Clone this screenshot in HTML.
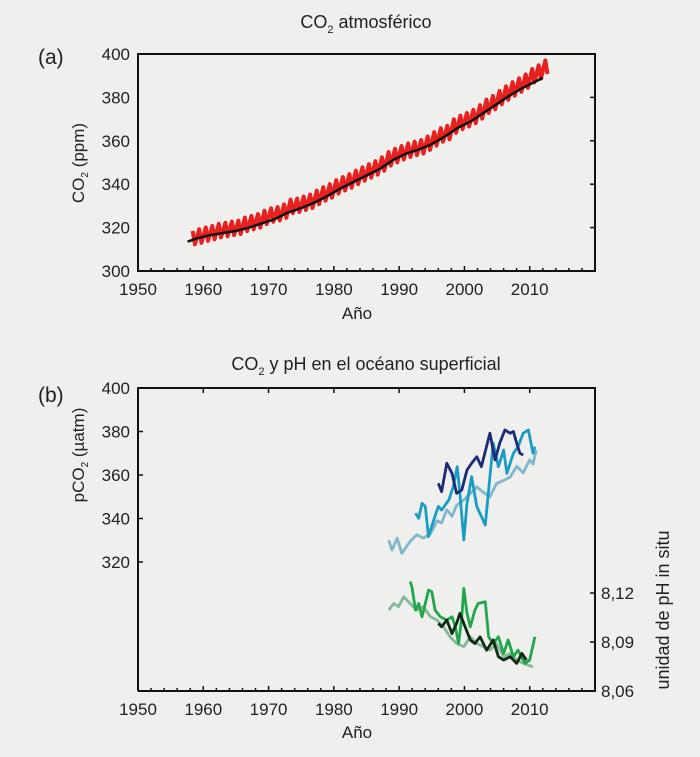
<!DOCTYPE html>
<html><head><meta charset="utf-8"><style>
html,body{margin:0;padding:0;background:#efefed;}
svg{display:block;font-family:"Liberation Sans",Arial,sans-serif;}
</style></head><body>
<svg id="chart" width="700" height="757" viewBox="0 0 700 757">
<rect width="700" height="757" fill="#efefed"/>
<g id="pa"></g>
<g id="pb"></g>
</svg>
<script>
// ---- Panel (a) data ----
const redYears = [1958,1959,1960,1961,1962,1963,1964,1965,1966,1967,1968,1969,1970,1971,1972,1973,1974,1975,1976,1977,1978,1979,1980,1981,1982,1983,1984,1985,1986,1987,1988,1989,1990,1991,1992,1993,1994,1995,1996,1997,1998,1999,2000,2001,2002,2003,2004,2005,2006,2007,2008,2009,2010,2011,2012];
const redPeaks = [318.5,319.2,320.1,320.8,321.7,322.2,322.8,323.2,324.6,325.4,326.2,327.8,328.9,329.5,330.7,332.9,333.4,334.3,335.2,337.0,338.6,340.0,341.9,343.3,344.6,346.2,347.8,349.2,350.6,352.4,354.8,356.3,357.6,358.8,359.6,360.3,362.0,364.0,365.8,366.9,369.9,371.6,372.8,374.3,376.4,379.0,380.7,383.0,385.1,387.0,388.8,390.6,393.1,394.8,397.0];
const redTroughs = [312.3,313.0,313.9,314.6,315.5,316.0,316.6,317.0,318.4,319.2,320.0,321.6,322.7,323.3,324.5,326.7,327.2,328.1,329.0,330.8,332.4,333.8,335.7,337.1,338.4,340.0,341.6,343.0,344.4,346.2,348.6,350.1,351.4,352.6,353.4,354.1,355.8,357.8,359.6,360.7,363.7,365.4,366.6,368.1,370.2,372.8,374.5,376.8,378.9,380.8,382.6,384.4,386.9,388.6,390.8];
const blackYears = [1957.6,1959,1961,1963,1965,1967,1969,1971,1973,1975,1977,1979,1981,1983,1985,1987,1989,1991,1993,1995,1997,1999,2001,2003,2005,2007,2009,2011,2012];
const blackVals = [313.5,315,316.5,317.5,318.5,320,322,324,327,329,331.5,334.5,338,341,344,347,351,354,356,358.5,362,366,369,373,377,381,384.5,387.5,389];
const aYTicks = [300,320,340,360,380,400];
const xTicks = [1950,1960,1970,1980,1990,2000,2010];

// ---- Panel (b) data ----
const paleYears = [1988.4,1988.9,1989.7,1990.4,1991.7,1992.7,1993.7,1994.8,1995.8,1996.5,1997.3,1998.1,1998.8,1999.9,2000.9,2001.9,2002.9,2003.9,2004.9,2006,2007,2008,2009,2010,2010.5,2011];
const paleVals = [330,325.5,331,324,329.5,332.5,331,333,339,338,344,341,346,348.5,351.5,354.5,352,350,356,357.5,359,364,361,367,365,371.5];
const midYears = [1992.5,1993.0,1993.5,1994.0,1994.5,1995.3,1996.0,1996.5,1997.6,1998.3,1998.9,1999.3,1999.9,2000.4,2001.1,2001.9,2003.2,2003.9,2004.4,2005.2,2006.0,2006.5,2007.5,2008.2,2009.0,2009.8,2010.5,2010.8];
const midVals = [342.4,340.1,347,345.5,331.7,339.3,345.5,343.9,348.5,354.6,363.8,351.6,330.1,347,359.2,345.5,337,359.2,374.6,363.8,371.5,360.8,370,373,379.2,380.7,370,373];
const navyYears = [1996.0,1996.5,1997.3,1998.1,1998.8,1999.6,2000.4,2001.1,2001.9,2002.6,2003.9,2004.7,2005.4,2006.2,2007.0,2007.5,2008.0,2008.5,2009.0];
const navyVals = [356.2,352.3,365.4,360.8,351.6,353.1,362.3,365.4,368.4,363.8,379.2,366.9,374.6,380.7,379.2,380,374.6,370,369.2];
const sageYears = [1988.4,1989.2,1989.9,1990.7,1991.7,1992.7,1993.7,1994.8,1995.8,1996.8,1997.8,1998.8,1999.9,2000.9,2001.9,2002.9,2003.9,2004.9,2006.0,2007.0,2008.0,2009.0,2010.5];
const sageVals = [8.1095,8.1136,8.1116,8.1177,8.1136,8.1095,8.1116,8.1054,8.1034,8.0993,8.0932,8.0891,8.0871,8.0932,8.0891,8.0871,8.0850,8.0891,8.0810,8.0830,8.0789,8.0769,8.0748];
const greenYears = [1991.7,1991.96,1992.5,1993.0,1993.5,1994.0,1994.5,1995.0,1995.5,1996.3,1997.3,1998.1,1998.6,1999.1,1999.6,1999.9,2000.4,2000.9,2001.6,2002.1,2003.2,2003.7,2004.4,2005.2,2006.0,2006.7,2007.5,2008.2,2009.3,2010.0,2010.8];
const greenVals = [8.1269,8.1238,8.1095,8.1136,8.1054,8.1136,8.1218,8.1208,8.1095,8.1054,8.1034,8.1054,8.0993,8.0891,8.1054,8.1228,8.1075,8.0993,8.1095,8.1136,8.1146,8.0932,8.0891,8.0932,8.0830,8.0912,8.0810,8.0850,8.0769,8.0789,8.0932];
const dgreenYears = [1996.0,1996.5,1997.3,1998.1,1998.8,1999.3,2000.1,2000.9,2001.6,2002.4,2003.4,2004.4,2005.2,2006.0,2007.0,2008.0,2008.8,2009.5];
const dgreenVals = [8.1014,8.0993,8.1034,8.0952,8.1014,8.1075,8.0993,8.0912,8.0891,8.0932,8.0850,8.0912,8.0810,8.0789,8.0810,8.0769,8.0830,8.0789];
const bYTicks = [320,340,360,380,400];
const phTicks = [8.06,8.09,8.12];
const phLabels = ["8,06","8,09","8,12"];

const NS = "http://www.w3.org/2000/svg";
function mk(parent, tag, attrs) {
  const e = document.createElementNS(NS, tag);
  for (const k in attrs) e.setAttribute(k, attrs[k]);
  parent.appendChild(e);
  return e;
}
const L = 138, R = 595;
const FS = 17;
function xS(y) { return L + (y - 1950) / 70 * (R - L); }

// ---------- Panel A ----------
const pa = document.getElementById('pa');
const aTop = 54, aBot = 271;
function yA(v) { return aBot - (v - 300) / 100 * (aBot - aTop); }

let t = mk(pa, 'text', {x: 366, y: 28, 'text-anchor': 'middle', 'font-size': 18, fill: '#222'});


t.innerHTML = 'CO<tspan font-size="11" dy="5">2</tspan><tspan dy="-5"> atmosférico</tspan>';
t = mk(pa, 'text', {x: 38, y: 64, 'font-size': 21, fill: '#222'});


t.textContent = '(a)';

let pts = [];
for (let i = 0; i < redYears.length; i++) {
  pts.push(xS(redYears[i] + 0.38).toFixed(1) + ',' + yA(redPeaks[i]).toFixed(1));
  pts.push(xS(redYears[i] + 0.72).toFixed(1) + ',' + yA(redTroughs[i]).toFixed(1));
}
let p = mk(pa, 'polyline', {points: pts.join(' '), fill: 'none', stroke: '#e8201e', 'stroke-width': 4, 'stroke-linejoin': 'round'});


pts = blackYears.map((y, i) => xS(y).toFixed(1) + ',' + yA(blackVals[i]).toFixed(1));
p = mk(pa, 'polyline', {points: pts.join(' '), fill: 'none', stroke: '#111', 'stroke-width': 2.5, 'stroke-linejoin': 'round'});



let r = mk(pa, 'rect', {x: L, y: aTop, width: R - L, height: aBot - aTop, fill: 'none', stroke: '#111', 'stroke-width': 2});


aYTicks.forEach(v => {
  const y = yA(v);
  const tk = mk(pa, 'line', {x1: R, x2: R - 5, y1: y, y2: y, stroke: '#111', 'stroke-width': 1.5});
  
  
  const lb = mk(pa, 'text', {x: 130, y: y + 6, 'text-anchor': 'end', 'font-size': FS, fill: '#222'});
  
  
  lb.textContent = v;
});
for (let yr = 1950; yr <= 2020; yr += 2) {
  const x = xS(yr);
  const tk = mk(pa, 'line', {x1: x, x2: x, y1: aBot, y2: aBot - (yr % 10 === 0 ? 5 : 3), stroke: '#111', 'stroke-width': 1.5});
  
  
}
xTicks.forEach(v => {
  const lb = mk(pa, 'text', {x: xS(v), y: 295, 'text-anchor': 'middle', 'font-size': FS, fill: '#222'});
  
  
  lb.textContent = v;
});
t = mk(pa, 'text', {x: 357, y: 319, 'text-anchor': 'middle', 'font-size': FS, fill: '#222'});


t.textContent = 'Año';
t = mk(pa, 'text', {x: 0, y: 0, 'text-anchor': 'middle', 'font-size': FS, fill: '#222', transform: 'translate(84,163) rotate(-90)'});


t.innerHTML = 'CO<tspan font-size="10" dy="4">2</tspan><tspan dy="-4"> (ppm)</tspan>';

// ---------- Panel B ----------
const pb = document.getElementById('pb');
const bTop = 388, bBot = 691;
function yB(v) { return bTop + (400 - v) * 2.175; }
function yPH(v) { return bBot - (v - 8.06) / 0.06 * 98; }

t = mk(pb, 'text', {x: 366, y: 370, 'text-anchor': 'middle', 'font-size': 18, fill: '#222'});


t.innerHTML = 'CO<tspan font-size="11" dy="5">2</tspan><tspan dy="-5"> y pH en el océano superficial</tspan>';
t = mk(pb, 'text', {x: 38, y: 402, 'font-size': 21, fill: '#222'});


t.textContent = '(b)';

function series(years, vals, yf, color, name, w) {
  const ps = years.map((y, i) => xS(y).toFixed(1) + ',' + yf(vals[i]).toFixed(1));
  const e = mk(pb, 'polyline', {points: ps.join(' '), fill: 'none', stroke: color, 'stroke-width': w || 2.8, 'stroke-linejoin': 'round'});
  
  
}
series(paleYears, paleVals, yB, '#7fb8cc', 'pco2-pale-blue-line');
series(midYears, midVals, yB, '#1a9cc4', 'pco2-blue-line');
series(navyYears, navyVals, yB, '#1c2a78', 'pco2-navy-line');
series(sageYears, sageVals, yPH, '#86b89a', 'ph-sage-line');
series(greenYears, greenVals, yPH, '#22a64a', 'ph-green-line');
series(dgreenYears, dgreenVals, yPH, '#0d2a12', 'ph-dark-green-line');

let ax = mk(pb, 'polyline', {points: `${L},${bBot} ${L},${bTop} ${R},${bTop} ${R},${bBot} ${L},${bBot}`, fill: 'none', stroke: '#111', 'stroke-width': 2});


bYTicks.forEach(v => {
  const y = yB(v);
  const tk = mk(pb, 'line', {x1: L, x2: L + 5, y1: y, y2: y, stroke: '#111', 'stroke-width': 1.5});
  
  
  const lb = mk(pb, 'text', {x: 130, y: y + 6, 'text-anchor': 'end', 'font-size': FS, fill: '#222'});
  
  
  lb.textContent = v;
});
phTicks.forEach((v, i) => {
  const y = yPH(v);
  const tk = mk(pb, 'line', {x1: R, x2: R - 5, y1: y, y2: y, stroke: '#111', 'stroke-width': 1.5});
  
  
  const lb = mk(pb, 'text', {x: 601, y: y + 6, 'text-anchor': 'start', 'font-size': FS, fill: '#222'});
  
  
  lb.textContent = phLabels[i];
});
for (let yr = 1950; yr <= 2020; yr += 2) {
  const x = xS(yr);
  const tk = mk(pb, 'line', {x1: x, x2: x, y1: bBot, y2: bBot - (yr % 10 === 0 ? 5 : 3), stroke: '#111', 'stroke-width': 1.5});
  
  
}
xTicks.forEach(v => {
  const x = xS(v);
  const tk = mk(pb, 'line', {x1: x, x2: x, y1: bTop, y2: bTop + 5, stroke: '#111', 'stroke-width': 1.5});
  
  
  const lb = mk(pb, 'text', {x: x, y: 715, 'text-anchor': 'middle', 'font-size': FS, fill: '#222'});
  
  
  lb.textContent = v;
});
t = mk(pb, 'text', {x: 357, y: 738, 'text-anchor': 'middle', 'font-size': FS, fill: '#222'});


t.textContent = 'Año';
t = mk(pb, 'text', {x: 0, y: 0, 'text-anchor': 'middle', 'font-size': FS, fill: '#222', transform: 'translate(84,455) rotate(-90)'});


t.innerHTML = 'pCO<tspan font-size="10" dy="4">2</tspan><tspan dy="-4"> (µatm)</tspan>';
t = mk(pb, 'text', {x: 0, y: 0, 'text-anchor': 'middle', 'font-size': 18, fill: '#222', transform: 'translate(669,610) rotate(-90)'});


t.textContent = 'unidad de pH in situ';
</script>
</body></html>
